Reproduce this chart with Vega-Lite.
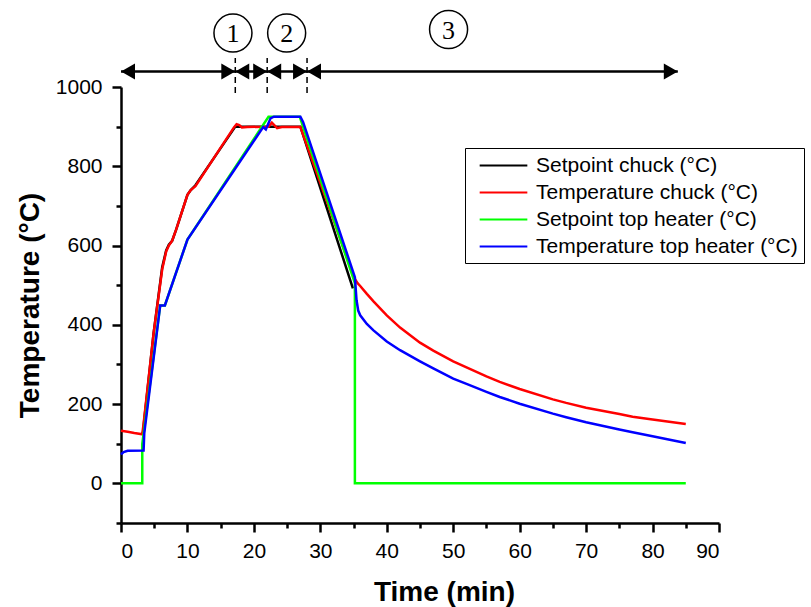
{
  "$schema": "https://vega.github.io/schema/vega-lite/v6.json",
  "width": 598,
  "height": 436,
  "autosize": {"type": "none"},
  "padding": {"left": 121, "top": 87, "right": 92, "bottom": 84},
  "config": {
    "view": {"stroke": null},
    "font": "Liberation Sans",
    "axis": {
      "grid": false,
      "domainColor": "black",
      "domainWidth": 2.5,
      "tickColor": "black",
      "tickWidth": 2.5,
      "labelFont": "Liberation Sans",
      "labelFontSize": 21,
      "labelColor": "black",
      "titleFont": "Liberation Sans",
      "titleFontSize": 28,
      "titleFontWeight": "bold",
      "titleColor": "black"
    }
  },
  "datasets": {
    "series": [
      {"series": "Setpoint chuck (°C)", "i": 1, "t": 3.3, "v": 125},
      {"series": "Setpoint chuck (°C)", "i": 2, "t": 3.5, "v": 160},
      {"series": "Setpoint chuck (°C)", "i": 3, "t": 4.9, "v": 378},
      {"series": "Setpoint chuck (°C)", "i": 4, "t": 6.2, "v": 545},
      {"series": "Setpoint chuck (°C)", "i": 5, "t": 6.8, "v": 588},
      {"series": "Setpoint chuck (°C)", "i": 6, "t": 7.2, "v": 602},
      {"series": "Setpoint chuck (°C)", "i": 7, "t": 7.7, "v": 612},
      {"series": "Setpoint chuck (°C)", "i": 8, "t": 8.3, "v": 640},
      {"series": "Setpoint chuck (°C)", "i": 9, "t": 10.0, "v": 728},
      {"series": "Setpoint chuck (°C)", "i": 10, "t": 10.5, "v": 740},
      {"series": "Setpoint chuck (°C)", "i": 11, "t": 11.2, "v": 752},
      {"series": "Setpoint chuck (°C)", "i": 12, "t": 17.2, "v": 900},
      {"series": "Setpoint chuck (°C)", "i": 13, "t": 27.0, "v": 900},
      {"series": "Setpoint chuck (°C)", "i": 14, "t": 34.9, "v": 492},

      {"series": "Temperature chuck (°C)", "i": 1, "t": 0, "v": 133},
      {"series": "Temperature chuck (°C)", "i": 2, "t": 1, "v": 130},
      {"series": "Temperature chuck (°C)", "i": 3, "t": 2, "v": 127},
      {"series": "Temperature chuck (°C)", "i": 4, "t": 3.2, "v": 124},
      {"series": "Temperature chuck (°C)", "i": 5, "t": 3.4, "v": 150},
      {"series": "Temperature chuck (°C)", "i": 6, "t": 4.9, "v": 378},
      {"series": "Temperature chuck (°C)", "i": 7, "t": 6.2, "v": 540},
      {"series": "Temperature chuck (°C)", "i": 8, "t": 6.8, "v": 585},
      {"series": "Temperature chuck (°C)", "i": 9, "t": 7.2, "v": 600},
      {"series": "Temperature chuck (°C)", "i": 10, "t": 7.7, "v": 612},
      {"series": "Temperature chuck (°C)", "i": 11, "t": 8.3, "v": 640},
      {"series": "Temperature chuck (°C)", "i": 12, "t": 10.0, "v": 728},
      {"series": "Temperature chuck (°C)", "i": 13, "t": 10.5, "v": 740},
      {"series": "Temperature chuck (°C)", "i": 14, "t": 11.2, "v": 750},
      {"series": "Temperature chuck (°C)", "i": 15, "t": 17.0, "v": 898},
      {"series": "Temperature chuck (°C)", "i": 16, "t": 17.4, "v": 906},
      {"series": "Temperature chuck (°C)", "i": 17, "t": 17.8, "v": 904},
      {"series": "Temperature chuck (°C)", "i": 18, "t": 18.2, "v": 898},
      {"series": "Temperature chuck (°C)", "i": 19, "t": 19.0, "v": 899},
      {"series": "Temperature chuck (°C)", "i": 20, "t": 22.2, "v": 900},
      {"series": "Temperature chuck (°C)", "i": 21, "t": 22.7, "v": 910},
      {"series": "Temperature chuck (°C)", "i": 22, "t": 23.1, "v": 903},
      {"series": "Temperature chuck (°C)", "i": 23, "t": 23.5, "v": 896},
      {"series": "Temperature chuck (°C)", "i": 24, "t": 24.2, "v": 899},
      {"series": "Temperature chuck (°C)", "i": 25, "t": 27.0, "v": 899},
      {"series": "Temperature chuck (°C)", "i": 26, "t": 35.1, "v": 518},
      {"series": "Temperature chuck (°C)", "i": 27, "t": 35.6, "v": 505},
      {"series": "Temperature chuck (°C)", "i": 28, "t": 36, "v": 498},
      {"series": "Temperature chuck (°C)", "i": 29, "t": 37, "v": 478},
      {"series": "Temperature chuck (°C)", "i": 30, "t": 38, "v": 459},
      {"series": "Temperature chuck (°C)", "i": 31, "t": 40, "v": 424},
      {"series": "Temperature chuck (°C)", "i": 32, "t": 42, "v": 393},
      {"series": "Temperature chuck (°C)", "i": 33, "t": 45, "v": 355},
      {"series": "Temperature chuck (°C)", "i": 34, "t": 47, "v": 335},
      {"series": "Temperature chuck (°C)", "i": 35, "t": 50, "v": 308},
      {"series": "Temperature chuck (°C)", "i": 36, "t": 55, "v": 270},
      {"series": "Temperature chuck (°C)", "i": 37, "t": 57, "v": 256},
      {"series": "Temperature chuck (°C)", "i": 38, "t": 60, "v": 238},
      {"series": "Temperature chuck (°C)", "i": 39, "t": 65, "v": 212},
      {"series": "Temperature chuck (°C)", "i": 40, "t": 67, "v": 203},
      {"series": "Temperature chuck (°C)", "i": 41, "t": 70, "v": 191},
      {"series": "Temperature chuck (°C)", "i": 42, "t": 75, "v": 175},
      {"series": "Temperature chuck (°C)", "i": 43, "t": 77, "v": 168},
      {"series": "Temperature chuck (°C)", "i": 44, "t": 80, "v": 161},
      {"series": "Temperature chuck (°C)", "i": 45, "t": 85, "v": 150},

      {"series": "Setpoint top heater (°C)", "i": 1, "t": 0, "v": 0},
      {"series": "Setpoint top heater (°C)", "i": 2, "t": 3.2, "v": 0},
      {"series": "Setpoint top heater (°C)", "i": 3, "t": 3.2, "v": 100},
      {"series": "Setpoint top heater (°C)", "i": 4, "t": 3.4, "v": 125},
      {"series": "Setpoint top heater (°C)", "i": 5, "t": 5.9, "v": 449},
      {"series": "Setpoint top heater (°C)", "i": 6, "t": 6.6, "v": 449},
      {"series": "Setpoint top heater (°C)", "i": 7, "t": 10.0, "v": 615},
      {"series": "Setpoint top heater (°C)", "i": 8, "t": 22.2, "v": 925},
      {"series": "Setpoint top heater (°C)", "i": 9, "t": 26.9, "v": 925},
      {"series": "Setpoint top heater (°C)", "i": 10, "t": 35.2, "v": 505},
      {"series": "Setpoint top heater (°C)", "i": 11, "t": 35.2, "v": 0},
      {"series": "Setpoint top heater (°C)", "i": 12, "t": 85, "v": 0},

      {"series": "Temperature top heater (°C)", "i": 1, "t": 0, "v": 73},
      {"series": "Temperature top heater (°C)", "i": 2, "t": 0.4, "v": 79},
      {"series": "Temperature top heater (°C)", "i": 3, "t": 1, "v": 82},
      {"series": "Temperature top heater (°C)", "i": 4, "t": 3.4, "v": 83},
      {"series": "Temperature top heater (°C)", "i": 5, "t": 3.5, "v": 126},
      {"series": "Temperature top heater (°C)", "i": 6, "t": 5.9, "v": 449},
      {"series": "Temperature top heater (°C)", "i": 7, "t": 6.6, "v": 449},
      {"series": "Temperature top heater (°C)", "i": 8, "t": 10.0, "v": 615},
      {"series": "Temperature top heater (°C)", "i": 9, "t": 21.4, "v": 899},
      {"series": "Temperature top heater (°C)", "i": 10, "t": 21.8, "v": 893},
      {"series": "Temperature top heater (°C)", "i": 11, "t": 22.1, "v": 905},
      {"series": "Temperature top heater (°C)", "i": 12, "t": 22.5, "v": 921},
      {"series": "Temperature top heater (°C)", "i": 13, "t": 23.0, "v": 925},
      {"series": "Temperature top heater (°C)", "i": 14, "t": 27.0, "v": 925},
      {"series": "Temperature top heater (°C)", "i": 15, "t": 27.4, "v": 912},
      {"series": "Temperature top heater (°C)", "i": 16, "t": 35.2, "v": 520},
      {"series": "Temperature top heater (°C)", "i": 17, "t": 35.45, "v": 462},
      {"series": "Temperature top heater (°C)", "i": 18, "t": 35.7, "v": 436},
      {"series": "Temperature top heater (°C)", "i": 19, "t": 36.0, "v": 424},
      {"series": "Temperature top heater (°C)", "i": 20, "t": 37, "v": 402},
      {"series": "Temperature top heater (°C)", "i": 21, "t": 38, "v": 386},
      {"series": "Temperature top heater (°C)", "i": 22, "t": 40, "v": 358},
      {"series": "Temperature top heater (°C)", "i": 23, "t": 42, "v": 336},
      {"series": "Temperature top heater (°C)", "i": 24, "t": 45, "v": 308},
      {"series": "Temperature top heater (°C)", "i": 25, "t": 47, "v": 290},
      {"series": "Temperature top heater (°C)", "i": 26, "t": 50, "v": 264},
      {"series": "Temperature top heater (°C)", "i": 27, "t": 52, "v": 251},
      {"series": "Temperature top heater (°C)", "i": 28, "t": 55, "v": 231},
      {"series": "Temperature top heater (°C)", "i": 29, "t": 57, "v": 218},
      {"series": "Temperature top heater (°C)", "i": 30, "t": 60, "v": 201},
      {"series": "Temperature top heater (°C)", "i": 31, "t": 65, "v": 176},
      {"series": "Temperature top heater (°C)", "i": 32, "t": 67, "v": 167},
      {"series": "Temperature top heater (°C)", "i": 33, "t": 70, "v": 154},
      {"series": "Temperature top heater (°C)", "i": 34, "t": 75, "v": 136},
      {"series": "Temperature top heater (°C)", "i": 35, "t": 77, "v": 129},
      {"series": "Temperature top heater (°C)", "i": 36, "t": 80, "v": 119},
      {"series": "Temperature top heater (°C)", "i": 37, "t": 85, "v": 102}
    ],
    "arrows": [
      {"x": 0, "x2": 17.2, "y": 1039},
      {"x": 17.2, "x2": 22, "y": 1039},
      {"x": 22, "x2": 28, "y": 1039},
      {"x": 28, "x2": 83.8, "y": 1039}
    ],
    "headsLeft": [
      {"x": 0, "y": 1039},
      {"x": 17.2, "y": 1039},
      {"x": 22, "y": 1039},
      {"x": 28, "y": 1039}
    ],
    "headsRight": [
      {"x": 17.2, "y": 1039},
      {"x": 22, "y": 1039},
      {"x": 28, "y": 1039},
      {"x": 83.8, "y": 1039}
    ],
    "dashes": [
      {"x": 17.2, "y": 985, "y2": 1073},
      {"x": 22, "y": 985, "y2": 1073},
      {"x": 28, "y": 985, "y2": 1073}
    ],
    "circles": [
      {"x": 16.85, "y": 1136, "label": "1"},
      {"x": 24.93, "y": 1136, "label": "2"},
      {"x": 49.3, "y": 1145, "label": "3"}
    ]
  },
  "layer": [
    {
      "data": {"name": "series"},
      "mark": {"type": "line", "strokeWidth": 2.5},
      "encoding": {
        "x": {
          "field": "t", "type": "quantitative",
          "scale": {"domain": [0, 90], "nice": false, "zero": false},
          "axis": {
            "orient": "bottom",
            "values": [0, 10, 20, 30, 40, 50, 60, 70, 80, 90],
            "format": "d",
            "tickSize": 9,
            "labelPadding": 8,
            "title": "Time (min)",
            "titleX": 323,
            "titleY": 77,
            "titleBaseline": "alphabetic"
          }
        },
        "y": {
          "field": "v", "type": "quantitative",
          "scale": {"domain": [-100, 1000], "nice": false, "zero": false},
          "axis": {
            "orient": "left",
            "values": [0, 200, 400, 600, 800, 1000],
            "format": "d",
            "tickSize": 9,
            "labelPadding": 10,
            "title": "Temperature (°C)",
            "titleX": -83,
            "titleBaseline": "alphabetic"
          }
        },
        "color": {
          "field": "series", "type": "nominal",
          "scale": {
            "domain": ["Setpoint chuck (°C)", "Temperature chuck (°C)", "Setpoint top heater (°C)", "Temperature top heater (°C)"],
            "range": ["#000000", "#ff0000", "#00ff00", "#0000ff"]
          },
          "sort": null,
          "legend": {
            "orient": "none",
            "legendX": 344,
            "legendY": 61,
            "title": null,
            "strokeColor": "black",
            "fillColor": "white",
            "padding": 6,
            "symbolType": "M-2.27,0L2.27,0",
            "symbolSize": 441,
            "symbolStrokeWidth": 2,
            "symbolOffset": 21,
            "labelFont": "Liberation Sans",
            "labelFontSize": 21,
            "labelColor": "black",
            "labelOffset": 21,
            "labelLimit": 600,
            "rowPadding": 5
          }
        },
        "order": {"field": "i", "type": "quantitative"}
      }
    },
    {
      "data": {"name": "dashes"},
      "mark": {"type": "rule", "strokeWidth": 1.5, "strokeDash": [6, 4], "color": "black"},
      "encoding": {
        "x": {
          "field": "x", "type": "quantitative",
          "scale": {"domain": [0, 90], "nice": false, "zero": false},
          "axis": {
            "orient": "bottom",
            "values": [5, 15, 25, 35, 45, 55, 65, 75, 85],
            "labels": false,
            "domain": false,
            "tickSize": 5,
            "title": null
          }
        },
        "y": {
          "field": "y", "type": "quantitative",
          "scale": {"domain": [-100, 1000], "nice": false, "zero": false},
          "axis": {
            "orient": "left",
            "values": [-100, 100, 300, 500, 700, 900],
            "labels": false,
            "domain": false,
            "tickSize": 5,
            "title": null
          }
        },
        "y2": {"field": "y2"}
      }
    },
    {
      "data": {"name": "arrows"},
      "mark": {"type": "rule", "strokeWidth": 2.5, "color": "black"},
      "encoding": {
        "x": {"field": "x", "type": "quantitative", "scale": {"domain": [0, 90], "nice": false, "zero": false}, "axis": null},
        "x2": {"field": "x2"},
        "y": {"field": "y", "type": "quantitative", "scale": {"domain": [-100, 1000], "nice": false, "zero": false}, "axis": null}
      }
    },
    {
      "data": {"name": "headsLeft"},
      "mark": {"type": "point", "shape": "triangle-left", "filled": true, "color": "black", "opacity": 1, "size": 260, "xOffset": 7},
      "encoding": {
        "x": {"field": "x", "type": "quantitative", "scale": {"domain": [0, 90], "nice": false, "zero": false}, "axis": null},
        "y": {"field": "y", "type": "quantitative", "scale": {"domain": [-100, 1000], "nice": false, "zero": false}, "axis": null}
      }
    },
    {
      "data": {"name": "headsRight"},
      "mark": {"type": "point", "shape": "triangle-right", "filled": true, "color": "black", "opacity": 1, "size": 260, "xOffset": -7},
      "encoding": {
        "x": {"field": "x", "type": "quantitative", "scale": {"domain": [0, 90], "nice": false, "zero": false}, "axis": null},
        "y": {"field": "y", "type": "quantitative", "scale": {"domain": [-100, 1000], "nice": false, "zero": false}, "axis": null}
      }
    },
    {
      "data": {"name": "circles"},
      "mark": {"type": "point", "shape": "circle", "filled": false, "stroke": "black", "strokeWidth": 1.5, "opacity": 1, "size": 1444},
      "encoding": {
        "x": {"field": "x", "type": "quantitative", "scale": {"domain": [0, 90], "nice": false, "zero": false}, "axis": null},
        "y": {"field": "y", "type": "quantitative", "scale": {"domain": [-100, 1000], "nice": false, "zero": false}, "axis": null}
      }
    },
    {
      "data": {"name": "circles"},
      "mark": {"type": "text", "font": "Liberation Serif", "fontSize": 26, "color": "black", "baseline": "middle", "align": "center", "dy": 1},
      "encoding": {
        "x": {"field": "x", "type": "quantitative", "scale": {"domain": [0, 90], "nice": false, "zero": false}, "axis": null},
        "y": {"field": "y", "type": "quantitative", "scale": {"domain": [-100, 1000], "nice": false, "zero": false}, "axis": null},
        "text": {"field": "label"}
      }
    }
  ],
  "resolve": {"axis": {"x": "independent", "y": "independent"}}
}
